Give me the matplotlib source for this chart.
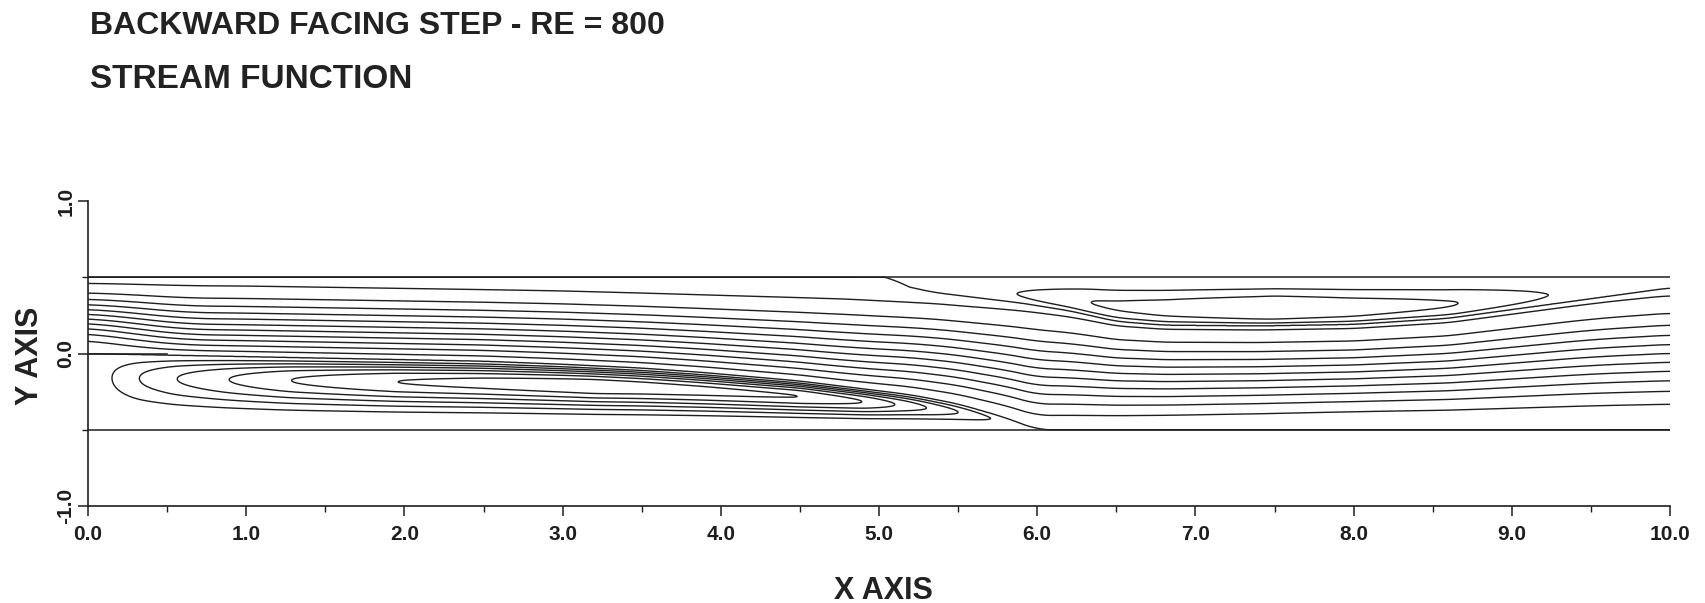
import numpy as np
import matplotlib.pyplot as plt

plt.rcParams['font.family'] = ['Liberation Sans', 'DejaVu Sans']
plt.rcParams['font.weight'] = 'bold'

title_1 = "BACKWARD FACING STEP - RE = 800"
title_2 = "STREAM FUNCTION"
x_label = "X AXIS"
y_label = "Y AXIS"
x_ticks = [0.0, 1.0, 2.0, 3.0, 4.0, 5.0, 6.0, 7.0, 8.0, 9.0, 10.0]
x_tick_labels = ["0.0", "1.0", "2.0", "3.0", "4.0", "5.0", "6.0", "7.0", "8.0", "9.0", "10.0"]
y_ticks = [-1.0, 0.0, 1.0]
y_tick_labels = ["-1.0", "0.0", "1.0"]

# channel: inlet 0<y<0.5 at x=0, step down to y=-0.5
channel_top = 0.5
channel_bottom = -0.5
flow_rate = 0.5

# dividing streamline of the primary (lower) eddy, psi = 0
lower_sep_x = [0.0, 0.5, 1.0, 2.0, 2.5, 3.0, 3.5, 3.9, 4.5, 5.2, 5.5, 5.8, 6.0]
lower_sep_y = [0.0, -0.01, -0.02, -0.04, -0.05, -0.07, -0.095, -0.125, -0.18, -0.27, -0.33, -0.42, -0.5]
# dividing streamline of the upper eddy, psi = 0.5
upper_sep_x = [5.1, 5.13, 5.35, 5.9, 6.2, 6.5, 6.8, 7.4, 8.0, 8.6, 9.3, 10.0, 10.5]
upper_sep_y = [0.5, 0.45, 0.40, 0.33, 0.28, 0.21, 0.185, 0.18, 0.19, 0.23, 0.33, 0.43, 0.5]
# edge of the slow layer under the top wall ahead of the upper eddy
top_stream_x = [0.0, 1.0, 2.0, 3.0, 4.0, 4.8, 5.35, 5.9]
top_stream_y = [0.5, 0.495, 0.48, 0.465, 0.44, 0.422, 0.392, 0.328]

# contour levels
main_levels = [0.04, 0.085, 0.13, 0.175, 0.22, 0.265, 0.31, 0.355, 0.40, 0.445, 0.49]
lower_eddy_levels = [-0.005, -0.010, -0.015, -0.020, -0.025, -0.030]
upper_eddy_levels = [0.5005, 0.5010]

# where each closed eddy loop ends (outer -> inner), and eddy core (x, psi)
lower_eddy_left = [0.15, 0.32, 0.56, 0.89, 1.28, 1.95]
lower_eddy_right = [5.7, 5.5, 5.3, 5.1, 4.9, 4.5]
lower_eddy_core = (3.2, -0.034)
upper_eddy_left = [5.88, 6.33]
upper_eddy_right = [9.22, 8.67]
upper_eddy_core = (7.5, 0.5015)

# velocity at the dividing streamlines (0 = wall-like, 1 = mean speed)
slip_bottom_x = [0.0, 0.6, 4.8, 6.0, 8.0, 10.0]
slip_bottom = [0.0, 1.2, 1.2, 0.5, 0.1, 0.0]
slip_top_x = [5.4, 6.6, 9.5, 10.5]
slip_top = [0.0, 0.4, 0.4, 0.0]


def smooth(v, n):
    k = np.ones(n) / n
    p = np.pad(v, n // 2, mode='edge')
    return np.convolve(p, k, mode='valid')


x = np.linspace(x_ticks[0], x_ticks[-1], 2001)
y = np.linspace(channel_bottom, channel_top, 601)
X, Y = np.meshgrid(x, y)

ylo = smooth(np.interp(x, lower_sep_x, lower_sep_y, right=channel_bottom), 41)
yhi = smooth(np.interp(x, upper_sep_x, upper_sep_y, left=channel_top), 31)
ytop = smooth(np.minimum(np.interp(x, top_stream_x, top_stream_y, right=1.0), yhi), 41)
ytop = np.minimum(ytop, yhi)
gap = yhi - ytop
a0 = smooth(np.interp(x, slip_bottom_x, slip_bottom), 81)
a1 = smooth(np.interp(x, slip_top_x, slip_top), 81)

# through flow between the lower dividing streamline and the top streamline,
# plus a thin slow layer carrying a tiny share of the flow
eps = 0.002
eta = np.clip((Y - ylo) / (ytop - ylo), 0, 1)
F = (3 * eta**2 - 2 * eta**3) + a0 * (eta**3 - 2 * eta**2 + eta) + a1 * (eta**3 - eta**2)
t = np.clip((Y - ytop) / np.maximum(gap, 1e-9), 0, 1)
F = np.where(Y > ytop, (1 - eps) + eps * (3 * t**2 - 2 * t**3), (1 - eps) * F)
psi = flow_rate * F

# primary eddy under the lower dividing streamline
fr_lo = [lv / lower_eddy_core[1] for lv in lower_eddy_levels]
px = [0.0] + lower_eddy_left + [lower_eddy_core[0]] + lower_eddy_right[::-1] + [lower_sep_x[-1]]
pv = [0.0] + fr_lo + [1.0] + fr_lo[::-1] + [0.0]
P_lo = smooth(np.interp(x, px, pv), 21)
s = np.clip((Y - channel_bottom) / np.maximum(ylo - channel_bottom, 1e-9), 0, 1)
G = s**3 * (1 - s)**1.4 / ((3 / 4.4)**3 * (1.4 / 4.4)**1.4)
psi = np.where(Y < ylo, lower_eddy_core[1] * P_lo * G, psi)

# secondary eddy on the upper wall
fr_hi = [(lv - flow_rate) / (upper_eddy_core[1] - flow_rate) for lv in upper_eddy_levels]
px = [upper_sep_x[0]] + upper_eddy_left + [upper_eddy_core[0]] + upper_eddy_right[::-1] + [upper_sep_x[-1]]
pv = [0.0] + fr_hi + [1.0] + fr_hi[::-1] + [0.0]
P_hi = smooth(np.interp(x, px, pv), 21)
s2 = np.clip((Y - yhi) / np.maximum(channel_top - yhi, 1e-9), 0, 1)
G2 = s2 * (1 - s2)**1.86 / (0.35 * 0.65**1.86)
psi = np.where(Y > yhi, flow_rate + (upper_eddy_core[1] - flow_rate) * P_hi * G2, psi)

levels = sorted(lower_eddy_levels) + [1e-7] + main_levels + [flow_rate - 1e-7] + upper_eddy_levels

fig = plt.figure(figsize=(17.06, 6.03), dpi=100)
ax = fig.add_axes([88 / 1706, 1 - 506 / 603, (1670 - 88) / 1706, (506 - 201) / 603])

line_col = '#1e1e1e'
ax.contour(X, Y, psi, levels=levels, colors=line_col, linewidths=1.0, linestyles='solid')
ax.plot([x_ticks[0], x_ticks[-1]], [channel_top, channel_top], color=line_col, lw=1.1)
ax.plot([x_ticks[0], x_ticks[-1]], [channel_bottom, channel_bottom], color=line_col, lw=1.1)
ax.plot([x_ticks[0], lower_sep_x[1]], [0.0, 0.0], color=line_col, lw=1.1)

ax.set_xlim(x_ticks[0], x_ticks[-1])
ax.set_ylim(y_ticks[0], y_ticks[-1])
for sp in ['top', 'right']:
    ax.spines[sp].set_visible(False)
for sp in ['left', 'bottom']:
    ax.spines[sp].set_color(line_col)
    ax.spines[sp].set_linewidth(1.2)

ax.set_xticks(x_ticks)
ax.set_xticklabels(x_tick_labels, fontsize=15, fontweight='bold')
ax.set_xticks([v + 0.5 for v in x_ticks[:-1]], minor=True)
ax.set_yticks(y_ticks)
ax.set_yticklabels(y_tick_labels, fontsize=15, fontweight='bold', rotation=90, va='center')
ax.set_yticks([channel_bottom, channel_top], minor=True)
ax.tick_params(axis='x', which='major', length=7, width=1.1, pad=7, colors=line_col)
ax.tick_params(axis='x', which='minor', length=4, width=1.0, colors=line_col)
ax.tick_params(axis='y', which='major', length=7, width=1.1, pad=2, colors=line_col)
ax.tick_params(axis='y', which='minor', length=4, width=1.0, colors=line_col)

fig.text(90 / 1706, 1 - 26 / 603, title_1, fontsize=23, fontweight='bold', va='center', ha='left', color='#222')
fig.text(90 / 1706, 1 - 79 / 603, title_2, fontsize=24, fontweight='bold', va='center', ha='left', color='#222')
fig.text(883 / 1706, 1 - 591 / 603, x_label, fontsize=22, fontweight='bold', va='center', ha='center', color='#222')
fig.text(30 / 1706, 1 - 356 / 603, y_label, fontsize=22, fontweight='bold', va='center', ha='center',
         rotation=90, color='#222')

fig.savefig("out.png", dpi=100, facecolor='white')
